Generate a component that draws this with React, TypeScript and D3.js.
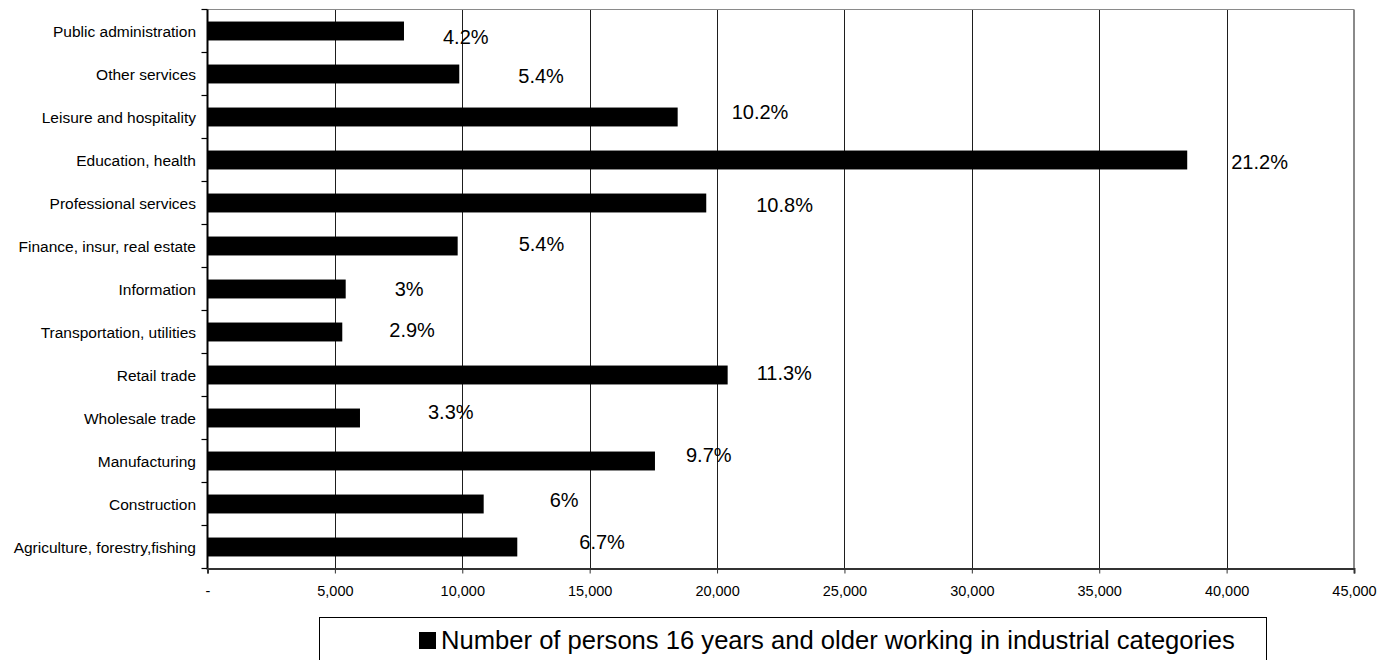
import * as d3 from 'd3';
import React, { useEffect, useRef } from 'react';

// categories listed top to bottom as drawn
const categories = [
  'Public administration',
  'Other services',
  'Leisure and hospitality',
  'Education, health',
  'Professional services',
  'Finance, insur, real estate',
  'Information',
  'Transportation, utilities',
  'Retail trade',
  'Wholesale trade',
  'Manufacturing',
  'Construction',
  'Agriculture, forestry,fishing',
];

const workers = [7712, 9882, 18454, 38454, 19576, 9819, 5424, 5290, 20416, 5985, 17563, 10840, 12159];

const shareLabels = ['4.2%', '5.4%', '10.2%', '21.2%', '10.8%', '5.4%', '3%', '2.9%', '11.3%', '3.3%', '9.7%', '6%', '6.7%'];

const xTicks = [0, 5000, 10000, 15000, 20000, 25000, 30000, 35000, 40000, 45000];

const legendLabel = 'Number of persons 16 years and older working in industrial categories';

// data labels were dragged by hand in the original, so each one gets its own nudge (px)
const labelNudge: [number, number][] = [
  [39, 6], [59, 2], [54, -5], [44, 2], [50, 2], [61, -2], [49, 0],
  [47, -2], [29, -2], [68, -6], [31, -6], [66, -4], [62, -5],
];

const W = 1392;
const H = 660;
const FONT = '"Liberation Sans", Arial, Helvetica, sans-serif';

const App: React.FC = () => {
  const ref = useRef<SVGSVGElement | null>(null);

  useEffect(() => {
    if (!ref.current) return;
    const svg = d3.select(ref.current);
    svg.selectAll('*').remove();

    const left = 207.5;
    const right = 1354;
    const top = 9.5;
    const bottom = 568.5;

    const x = d3.scaleLinear().domain([0, 45000]).range([left, right]);
    const y = d3
      .scaleBand()
      .domain(categories)
      .range([top, bottom])
      .paddingInner(0.56)
      .paddingOuter(0.28);
    const step = y.step();

    // gridlines
    svg
      .append('g')
      .selectAll('line')
      .data(xTicks.filter((t) => t > 0 && t < 45000))
      .enter()
      .append('line')
      .attr('x1', (d) => Math.round(x(d)) + 0.5)
      .attr('x2', (d) => Math.round(x(d)) + 0.5)
      .attr('y1', top)
      .attr('y2', bottom)
      .attr('stroke', '#1e1e1e')
      .attr('stroke-width', 1);

    // plot border top + right (gray)
    svg
      .append('line')
      .attr('x1', left)
      .attr('x2', right)
      .attr('y1', top)
      .attr('y2', top)
      .attr('stroke', '#8a8a8a')
      .attr('stroke-width', 1.2);
    svg
      .append('line')
      .attr('x1', right)
      .attr('x2', right)
      .attr('y1', top)
      .attr('y2', bottom)
      .attr('stroke', '#8a8a8a')
      .attr('stroke-width', 2);

    // bars
    svg
      .append('g')
      .selectAll('rect')
      .data(categories)
      .enter()
      .append('rect')
      .attr('x', x(0))
      .attr('y', (d) => y(d) ?? 0)
      .attr('width', (_d, i) => x(workers[i]) - x(0))
      .attr('height', y.bandwidth())
      .attr('fill', '#000');

    // percent labels
    svg
      .append('g')
      .selectAll('text')
      .data(categories)
      .enter()
      .append('text')
      .attr('x', (_d, i) => x(workers[i]) + labelNudge[i][0])
      .attr('y', (d, i) => (y(d) ?? 0) + y.bandwidth() / 2 + labelNudge[i][1])
      .attr('dominant-baseline', 'central')
      .style('font-family', FONT)
      .style('font-size', '20px')
      .style('fill', '#000')
      .text((_d, i) => shareLabels[i]);

    // left axis: line, boundary ticks, category names
    const yAxis = svg.append('g');
    yAxis
      .append('line')
      .attr('x1', left)
      .attr('x2', left)
      .attr('y1', top)
      .attr('y2', bottom + 1)
      .attr('stroke', '#000')
      .attr('stroke-width', 2);
    yAxis
      .selectAll('line.tick')
      .data(d3.range(categories.length + 1))
      .enter()
      .append('line')
      .attr('class', 'tick')
      .attr('x1', left - 6)
      .attr('x2', left)
      .attr('y1', (i) => top + i * step)
      .attr('y2', (i) => top + i * step)
      .attr('stroke', '#000')
      .attr('stroke-width', 1.2);
    yAxis
      .selectAll('text')
      .data(categories)
      .enter()
      .append('text')
      .attr('x', 196)
      .attr('y', (d) => (y(d) ?? 0) + y.bandwidth() / 2)
      .attr('text-anchor', 'end')
      .attr('dominant-baseline', 'central')
      .style('font-family', FONT)
      .style('font-size', '15.5px')
      .style('fill', '#000')
      .text((d) => d);

    // bottom axis
    const xAxis = svg
      .append('g')
      .attr('transform', `translate(0,${bottom})`)
      .call(
        d3
          .axisBottom(x)
          .tickValues(xTicks)
          .tickSize(5)
          .tickPadding(12)
          .tickFormat((d) => (+d === 0 ? '-' : d3.format(',')(+d))),
      );
    xAxis.select('.domain').attr('stroke', '#333').attr('stroke-width', 2);
    xAxis.selectAll('.tick line').attr('stroke', '#333');
    xAxis
      .selectAll('.tick text')
      .style('font-family', FONT)
      .style('font-size', '14.5px')
      .style('fill', '#000');

    // legend
    const legend = svg.append('g');
    legend
      .append('rect')
      .attr('x', 319.5)
      .attr('y', 617.5)
      .attr('width', 947)
      .attr('height', 70)
      .attr('fill', '#fff')
      .attr('stroke', '#000')
      .attr('stroke-width', 1);
    legend
      .append('rect')
      .attr('x', 419)
      .attr('y', 632)
      .attr('width', 17)
      .attr('height', 17)
      .attr('fill', '#000');
    legend
      .append('text')
      .attr('x', 441)
      .attr('y', 649)
      .style('font-family', FONT)
      .style('font-size', '25.6px')
      .style('fill', '#000')
      .text(legendLabel);
  }, []);

  return (
    <svg
      ref={ref}
      width={W}
      height={H}
      style={{ position: 'absolute', left: 0, top: 0, background: '#fff' }}
    ></svg>
  );
};

export default App;
